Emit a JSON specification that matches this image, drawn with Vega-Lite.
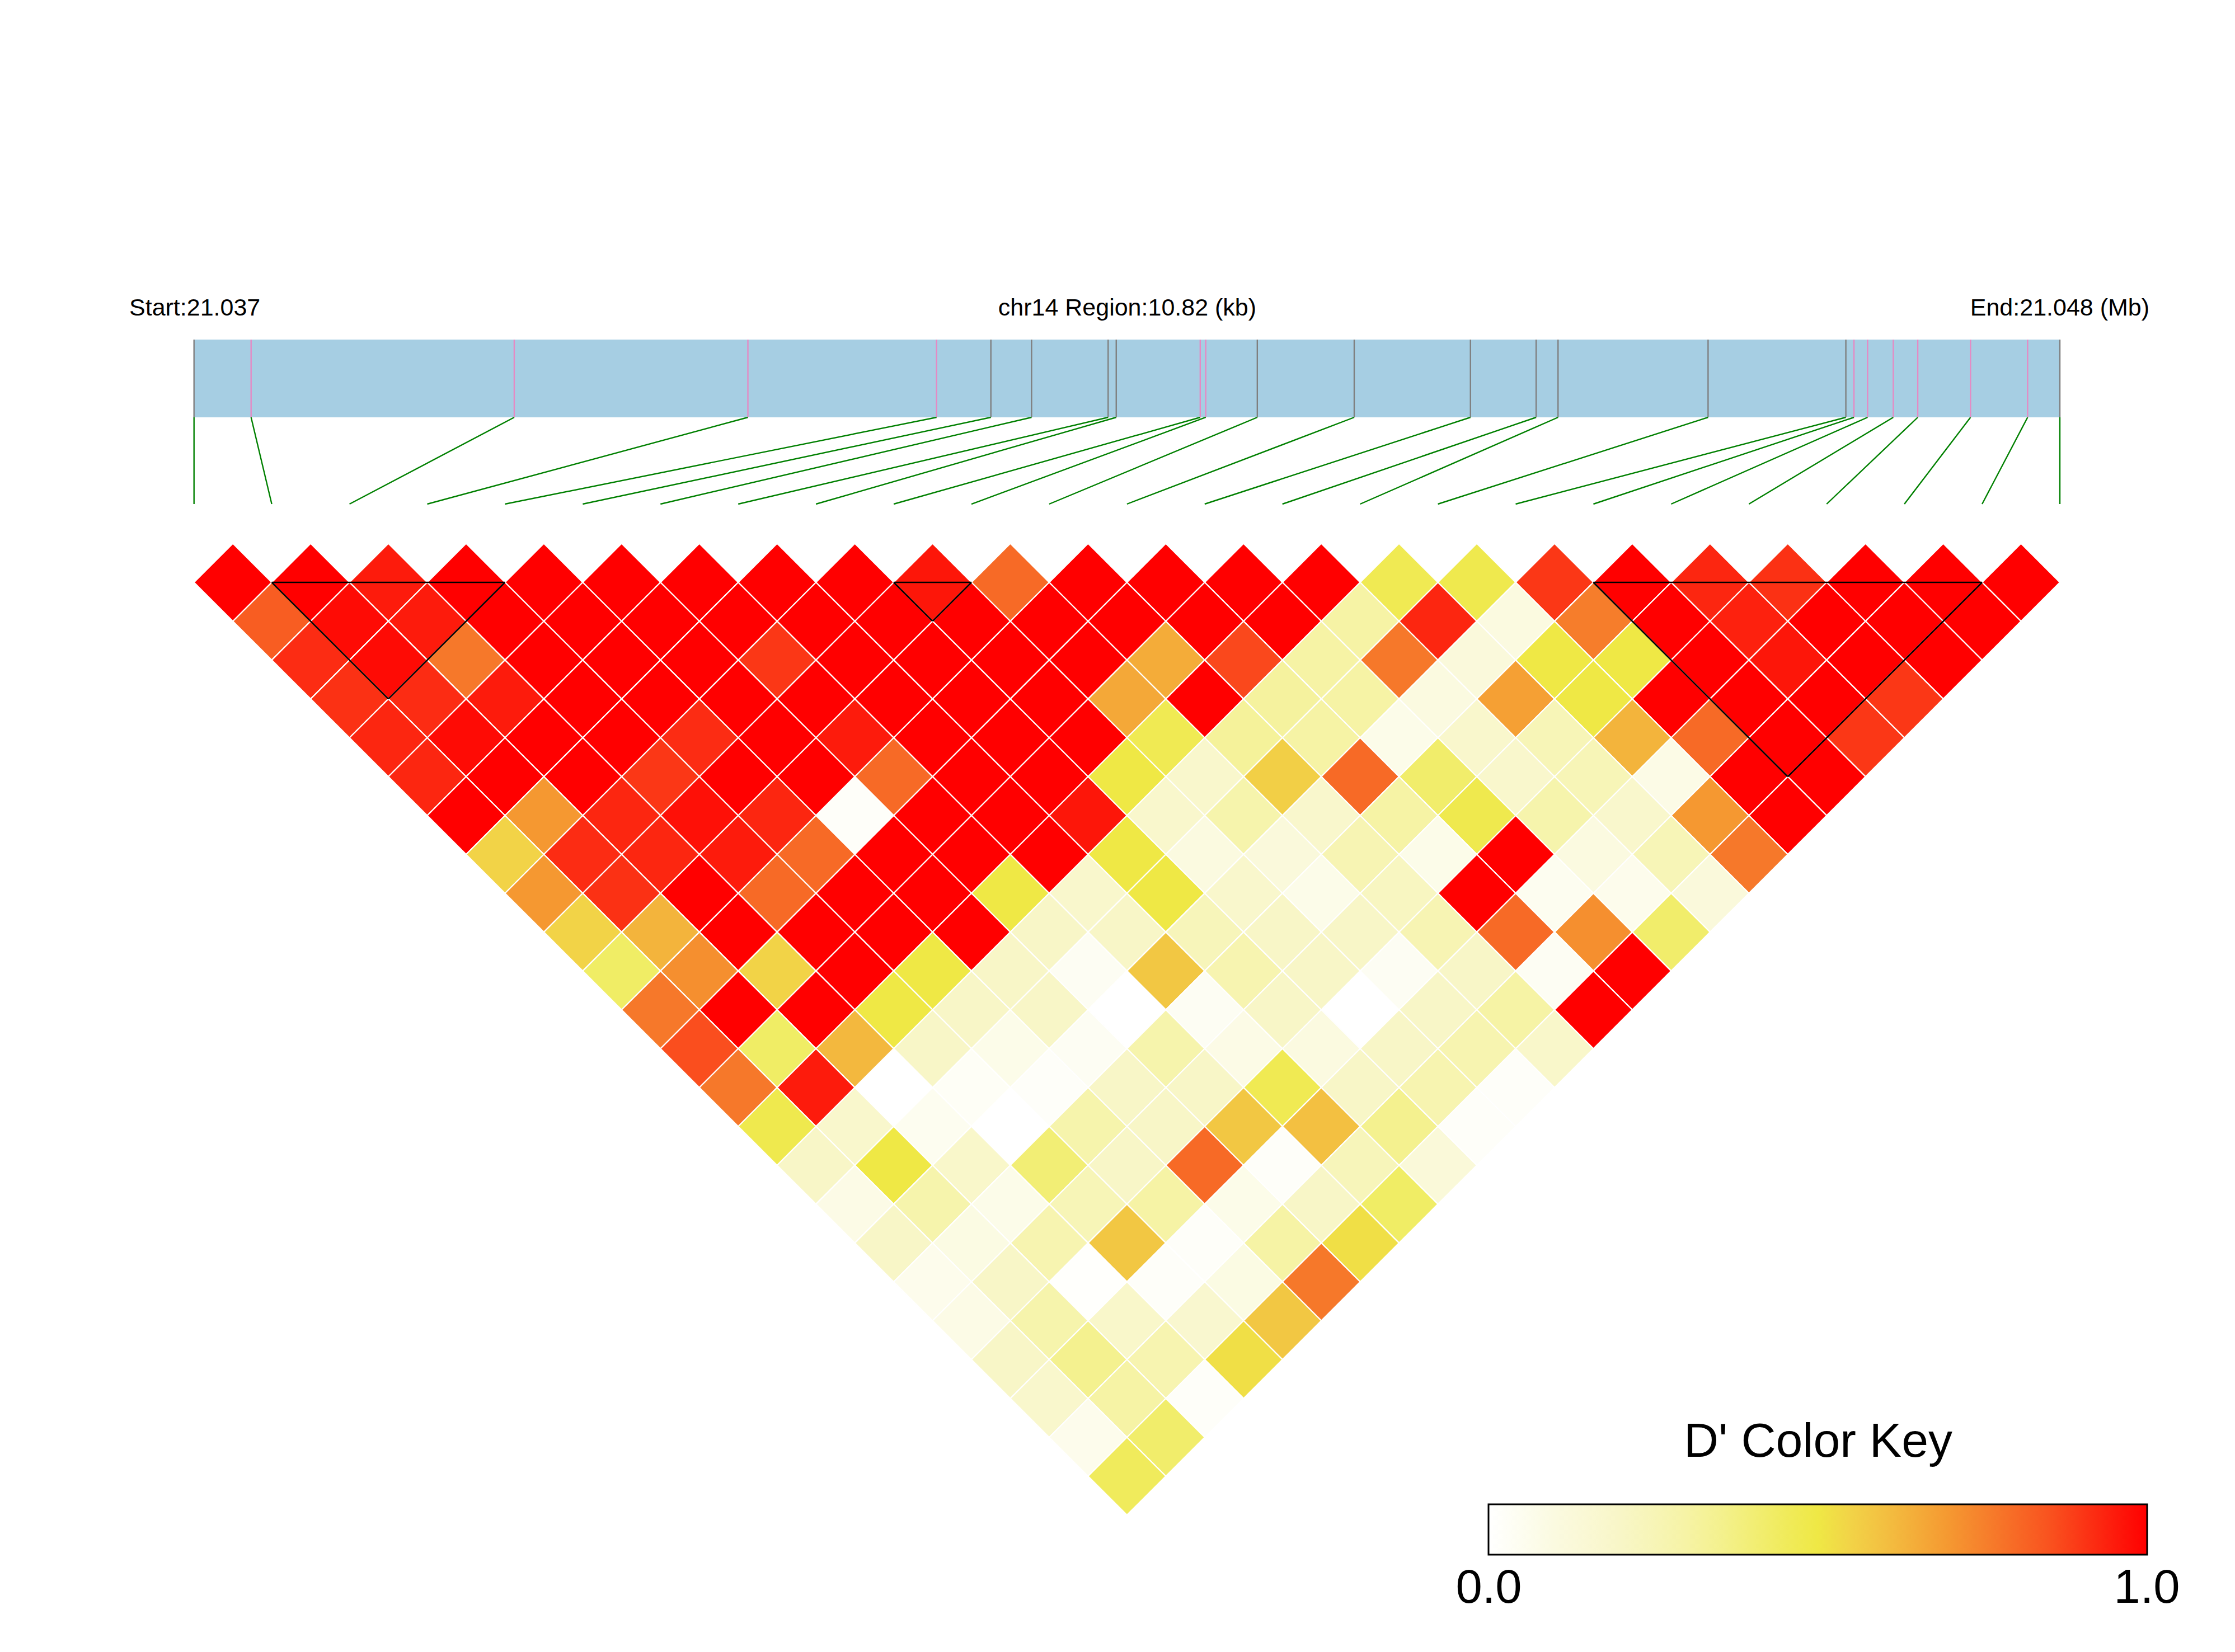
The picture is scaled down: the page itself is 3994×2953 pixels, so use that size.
{
"$schema": "https://vega.github.io/schema/vega-lite/v6.json",
"width": 3994, "height": 2953,
"autosize": {"type": "fit", "contains": "padding"},
"padding": 0,
"background": "white",
"config": {"view": {"stroke": null}},
"datasets": {
"cells": [
{"i":0,"j":1,"v":1},{"i":1,"j":2,"v":1},{"i":2,"j":3,"v":0.95},{"i":3,"j":4,"v":1},{"i":4,"j":5,"v":1},{"i":5,"j":6,"v":1},{"i":6,"j":7,"v":1},{"i":7,"j":8,"v":1},{"i":8,"j":9,"v":1},{"i":9,"j":10,"v":0.96},{"i":10,"j":11,"v":0.8},{"i":11,"j":12,"v":1},{"i":12,"j":13,"v":1},{"i":13,"j":14,"v":1},{"i":14,"j":15,"v":1},{"i":15,"j":16,"v":0.47},{"i":16,"j":17,"v":0.48},{"i":17,"j":18,"v":0.9},{"i":18,"j":19,"v":1},{"i":19,"j":20,"v":0.93},{"i":20,"j":21,"v":0.91},{"i":21,"j":22,"v":1},{"i":22,"j":23,"v":1},{"i":23,"j":24,"v":1},
{"i":0,"j":2,"v":0.83},{"i":1,"j":3,"v":0.98},{"i":2,"j":4,"v":0.95},{"i":3,"j":5,"v":1},{"i":4,"j":6,"v":1},{"i":5,"j":7,"v":1},{"i":6,"j":8,"v":1},{"i":7,"j":9,"v":1},{"i":8,"j":10,"v":1},{"i":9,"j":11,"v":1},{"i":10,"j":12,"v":1},{"i":11,"j":13,"v":1},{"i":12,"j":14,"v":1},{"i":13,"j":15,"v":1},{"i":14,"j":16,"v":0.3},{"i":15,"j":17,"v":0.93},{"i":16,"j":18,"v":0.1},{"i":17,"j":19,"v":0.76},{"i":18,"j":20,"v":1},{"i":19,"j":21,"v":0.94},{"i":20,"j":22,"v":1},{"i":21,"j":23,"v":1},{"i":22,"j":24,"v":1},
{"i":0,"j":3,"v":0.92},{"i":1,"j":4,"v":0.98},{"i":2,"j":5,"v":0.77},{"i":3,"j":6,"v":1},{"i":4,"j":7,"v":1},{"i":5,"j":8,"v":1},{"i":6,"j":9,"v":0.9},{"i":7,"j":10,"v":1},{"i":8,"j":11,"v":1},{"i":9,"j":12,"v":1},{"i":10,"j":13,"v":1},{"i":11,"j":14,"v":0.65},{"i":12,"j":15,"v":0.87},{"i":13,"j":16,"v":0.3},{"i":14,"j":17,"v":0.77},{"i":15,"j":18,"v":0.12},{"i":16,"j":19,"v":0.5},{"i":17,"j":20,"v":0.5},{"i":18,"j":21,"v":1},{"i":19,"j":22,"v":0.96},{"i":20,"j":23,"v":1},{"i":21,"j":24,"v":1},
{"i":0,"j":4,"v":0.91},{"i":1,"j":5,"v":0.92},{"i":2,"j":6,"v":0.95},{"i":3,"j":7,"v":1},{"i":4,"j":8,"v":1},{"i":5,"j":9,"v":1},{"i":6,"j":10,"v":1},{"i":7,"j":11,"v":1},{"i":8,"j":12,"v":1},{"i":9,"j":13,"v":1},{"i":10,"j":14,"v":0.66},{"i":11,"j":15,"v":1},{"i":12,"j":16,"v":0.32},{"i":13,"j":17,"v":0.3},{"i":14,"j":18,"v":0.1},{"i":15,"j":19,"v":0.68},{"i":16,"j":20,"v":0.5},{"i":17,"j":21,"v":1},{"i":18,"j":22,"v":1},{"i":19,"j":23,"v":1},{"i":20,"j":24,"v":0.9},
{"i":0,"j":5,"v":0.93},{"i":1,"j":6,"v":0.98},{"i":2,"j":7,"v":1},{"i":3,"j":8,"v":1},{"i":4,"j":9,"v":0.92},{"i":5,"j":10,"v":1},{"i":6,"j":11,"v":0.95},{"i":7,"j":12,"v":1},{"i":8,"j":13,"v":1},{"i":9,"j":14,"v":1},{"i":10,"j":15,"v":0.47},{"i":11,"j":16,"v":0.33},{"i":12,"j":17,"v":0.3},{"i":13,"j":18,"v":0.07},{"i":14,"j":19,"v":0.18},{"i":15,"j":20,"v":0.25},{"i":16,"j":21,"v":0.63},{"i":17,"j":22,"v":0.8},{"i":18,"j":23,"v":1},{"i":19,"j":24,"v":0.9},
{"i":0,"j":6,"v":0.93},{"i":1,"j":7,"v":1},{"i":2,"j":8,"v":1},{"i":3,"j":9,"v":0.9},{"i":4,"j":10,"v":1},{"i":5,"j":11,"v":1},{"i":6,"j":12,"v":0.8},{"i":7,"j":13,"v":1},{"i":8,"j":14,"v":1},{"i":9,"j":15,"v":0.5},{"i":10,"j":16,"v":0.18},{"i":11,"j":17,"v":0.56},{"i":12,"j":18,"v":0.8},{"i":13,"j":19,"v":0.42},{"i":14,"j":20,"v":0.18},{"i":15,"j":21,"v":0.25},{"i":16,"j":22,"v":0.08},{"i":17,"j":23,"v":1},{"i":18,"j":24,"v":1},
{"i":0,"j":7,"v":1},{"i":1,"j":8,"v":0.7},{"i":2,"j":9,"v":0.93},{"i":3,"j":10,"v":0.97},{"i":4,"j":11,"v":0.93},{"i":5,"j":12,"v":0.02},{"i":6,"j":13,"v":1},{"i":7,"j":14,"v":1},{"i":8,"j":15,"v":0.96},{"i":9,"j":16,"v":0.18},{"i":10,"j":17,"v":0.28},{"i":11,"j":18,"v":0.18},{"i":12,"j":19,"v":0.3},{"i":13,"j":20,"v":0.48},{"i":14,"j":21,"v":0.28},{"i":15,"j":22,"v":0.18},{"i":16,"j":23,"v":0.7},{"i":17,"j":24,"v":1},
{"i":0,"j":8,"v":0.55},{"i":1,"j":9,"v":0.92},{"i":2,"j":10,"v":0.93},{"i":3,"j":11,"v":0.95},{"i":4,"j":12,"v":0.8},{"i":5,"j":13,"v":1},{"i":6,"j":14,"v":1},{"i":7,"j":15,"v":1},{"i":8,"j":16,"v":0.5},{"i":9,"j":17,"v":0.1},{"i":10,"j":18,"v":0.12},{"i":11,"j":19,"v":0.26},{"i":12,"j":20,"v":0.07},{"i":13,"j":21,"v":1},{"i":14,"j":22,"v":0.1},{"i":15,"j":23,"v":0.25},{"i":16,"j":24,"v":0.77},
{"i":0,"j":9,"v":0.7},{"i":1,"j":10,"v":0.91},{"i":2,"j":11,"v":1},{"i":3,"j":12,"v":0.8},{"i":4,"j":13,"v":1},{"i":5,"j":14,"v":1},{"i":6,"j":15,"v":0.5},{"i":7,"j":16,"v":0.18},{"i":8,"j":17,"v":0.5},{"i":9,"j":18,"v":0.18},{"i":10,"j":19,"v":0.07},{"i":11,"j":20,"v":0.22},{"i":12,"j":21,"v":1},{"i":13,"j":22,"v":0.05},{"i":14,"j":23,"v":0.06},{"i":15,"j":24,"v":0.12},
{"i":0,"j":10,"v":0.55},{"i":1,"j":11,"v":0.63},{"i":2,"j":12,"v":1},{"i":3,"j":13,"v":1},{"i":4,"j":14,"v":1},{"i":5,"j":15,"v":1},{"i":6,"j":16,"v":0.2},{"i":7,"j":17,"v":0.2},{"i":8,"j":18,"v":0.24},{"i":9,"j":19,"v":0.2},{"i":10,"j":20,"v":0.2},{"i":11,"j":21,"v":0.26},{"i":12,"j":22,"v":0.8},{"i":13,"j":23,"v":0.72},{"i":14,"j":24,"v":0.42},
{"i":0,"j":11,"v":0.43},{"i":1,"j":12,"v":0.72},{"i":2,"j":13,"v":0.55},{"i":3,"j":14,"v":1},{"i":4,"j":15,"v":0.5},{"i":5,"j":16,"v":0.2},{"i":6,"j":17,"v":0.04},{"i":7,"j":18,"v":0.58},{"i":8,"j":19,"v":0.27},{"i":9,"j":20,"v":0.2},{"i":10,"j":21,"v":0.04},{"i":11,"j":22,"v":0.2},{"i":12,"j":23,"v":0.04},{"i":13,"j":24,"v":1},
{"i":0,"j":12,"v":0.77},{"i":1,"j":13,"v":1},{"i":2,"j":14,"v":1},{"i":3,"j":15,"v":0.5},{"i":4,"j":16,"v":0.2},{"i":5,"j":17,"v":0.2},{"i":6,"j":18,"v":0},{"i":7,"j":19,"v":0.04},{"i":8,"j":20,"v":0.2},{"i":9,"j":21,"v":0},{"i":10,"j":22,"v":0.2},{"i":11,"j":23,"v":0.3},{"i":12,"j":24,"v":1},
{"i":0,"j":13,"v":0.86},{"i":1,"j":14,"v":0.43},{"i":2,"j":15,"v":0.62},{"i":3,"j":16,"v":0.2},{"i":4,"j":17,"v":0.07},{"i":5,"j":18,"v":0.04},{"i":6,"j":19,"v":0.28},{"i":7,"j":20,"v":0.08},{"i":8,"j":21,"v":0.1},{"i":9,"j":22,"v":0.2},{"i":10,"j":23,"v":0.27},{"i":11,"j":24,"v":0.19},
{"i":0,"j":14,"v":0.77},{"i":1,"j":15,"v":0.95},{"i":2,"j":16,"v":0},{"i":3,"j":17,"v":0.03},{"i":4,"j":18,"v":0.02},{"i":5,"j":19,"v":0.2},{"i":6,"j":20,"v":0.2},{"i":7,"j":21,"v":0.47},{"i":8,"j":22,"v":0.2},{"i":9,"j":23,"v":0.27},{"i":10,"j":24,"v":0.02},
{"i":0,"j":15,"v":0.48},{"i":1,"j":16,"v":0.18},{"i":2,"j":17,"v":0.05},{"i":3,"j":18,"v":0},{"i":4,"j":19,"v":0.28},{"i":5,"j":20,"v":0.2},{"i":6,"j":21,"v":0.58},{"i":7,"j":22,"v":0.6},{"i":8,"j":23,"v":0.35},{"i":9,"j":24,"v":0.02},
{"i":0,"j":16,"v":0.2},{"i":1,"j":17,"v":0.5},{"i":2,"j":18,"v":0.19},{"i":3,"j":19,"v":0.4},{"i":4,"j":20,"v":0.2},{"i":5,"j":21,"v":0.8},{"i":6,"j":22,"v":0.02},{"i":7,"j":23,"v":0.24},{"i":8,"j":24,"v":0.13},
{"i":0,"j":17,"v":0.08},{"i":1,"j":18,"v":0.28},{"i":2,"j":19,"v":0.07},{"i":3,"j":20,"v":0.25},{"i":4,"j":21,"v":0.3},{"i":5,"j":22,"v":0.07},{"i":6,"j":23,"v":0.2},{"i":7,"j":24,"v":0.43},
{"i":0,"j":18,"v":0.2},{"i":1,"j":19,"v":0.09},{"i":2,"j":20,"v":0.27},{"i":3,"j":21,"v":0.58},{"i":4,"j":22,"v":0.02},{"i":5,"j":23,"v":0.3},{"i":6,"j":24,"v":0.52},
{"i":0,"j":19,"v":0.06},{"i":1,"j":20,"v":0.2},{"i":2,"j":21,"v":0.01},{"i":3,"j":22,"v":0.02},{"i":4,"j":23,"v":0.09},{"i":5,"j":24,"v":0.77},
{"i":0,"j":20,"v":0.08},{"i":1,"j":21,"v":0.28},{"i":2,"j":22,"v":0.19},{"i":3,"j":23,"v":0.17},{"i":4,"j":24,"v":0.58},
{"i":0,"j":21,"v":0.2},{"i":1,"j":22,"v":0.35},{"i":2,"j":23,"v":0.27},{"i":3,"j":24,"v":0.52},
{"i":0,"j":22,"v":0.18},{"i":1,"j":23,"v":0.3},{"i":2,"j":24,"v":0.02},
{"i":0,"j":23,"v":0.06},{"i":1,"j":24,"v":0.42},
{"i":0,"j":24,"v":0.45}
],
"snps": [
{"snp":0,"kb":0,"kind":"grey"},{"snp":1,"kb":0.331,"kind":"pink"},{"snp":2,"kb":1.857,"kind":"pink"},{"snp":3,"kb":3.212,"kind":"pink"},{"snp":4,"kb":4.306,"kind":"pink"},{"snp":5,"kb":4.621,"kind":"grey"},{"snp":6,"kb":4.857,"kind":"grey"},{"snp":7,"kb":5.301,"kind":"grey"},{"snp":8,"kb":5.348,"kind":"grey"},{"snp":9,"kb":5.835,"kind":"pink"},{"snp":10,"kb":5.867,"kind":"pink"},{"snp":11,"kb":6.166,"kind":"grey"},{"snp":12,"kb":6.728,"kind":"grey"},{"snp":13,"kb":7.402,"kind":"grey"},{"snp":14,"kb":7.783,"kind":"grey"},{"snp":15,"kb":7.91,"kind":"grey"},{"snp":16,"kb":8.78,"kind":"grey"},{"snp":17,"kb":9.579,"kind":"grey"},{"snp":18,"kb":9.626,"kind":"pink"},{"snp":19,"kb":9.705,"kind":"pink"},{"snp":20,"kb":9.854,"kind":"pink"},{"snp":21,"kb":9.996,"kind":"pink"},{"snp":22,"kb":10.302,"kind":"pink"},{"snp":23,"kb":10.633,"kind":"pink"},{"snp":24,"kb":10.82,"kind":"grey"}
],
"blocks": [
{"block":1,"from":1,"to":4},{"block":2,"from":9,"to":10},{"block":3,"from":18,"to":23}
],
"region": [{"region":"chr14","first":0,"last":24}]
},
"layer": [
{
"data": {"name": "region"},
"transform": [{"calculate": "-2.6236", "as": "ytop"}, {"calculate": "-1.6231", "as": "ybot"}],
"mark": {"type": "rect", "color": "#A6CEE3"},
"encoding": {
"x": {"field": "first", "type": "quantitative", "scale": {"domain": [-2.4955, 26.2528], "nice": false, "zero": false}, "axis": null},
"x2": {"field": "last"},
"y": {"field": "ytop", "type": "quantitative", "scale": {"domain": [-6.9927, 14.2626], "nice": false, "zero": false, "reverse": true}, "axis": null},
"y2": {"field": "ybot"}
}
},
{
"data": {"name": "snps"},
"transform": [{"calculate": "datum.kb * 24 / 10.82", "as": "px"}, {"calculate": "-2.6236", "as": "ytop"}, {"calculate": "-1.6231", "as": "ybot"}],
"mark": {"type": "rule", "strokeWidth": 2.4},
"encoding": {
"x": {"field": "px", "type": "quantitative", "scale": {"domain": [-2.4955, 26.2528], "nice": false, "zero": false}, "axis": null},
"y": {"field": "ytop", "type": "quantitative", "scale": {"domain": [-6.9927, 14.2626], "nice": false, "zero": false, "reverse": true}, "axis": null},
"y2": {"field": "ybot"},
"stroke": {"field": "kind", "type": "nominal", "scale": {"domain": ["grey", "pink"], "range": ["#7F7F7F", "#E58AC4"]}, "legend": null}
}
},
{
"data": {"name": "snps"},
"transform": [{"calculate": "datum.kb * 24 / 10.82", "as": "px"}, {"calculate": "-1.6231", "as": "ybot"}, {"calculate": "-0.5074", "as": "ylow"}],
"mark": {"type": "rule", "strokeWidth": 2.4, "color": "#008000"},
"encoding": {
"x": {"field": "px", "type": "quantitative", "scale": {"domain": [-2.4955, 26.2528], "nice": false, "zero": false}, "axis": null},
"x2": {"field": "snp"},
"y": {"field": "ybot", "type": "quantitative", "scale": {"domain": [-6.9927, 14.2626], "nice": false, "zero": false, "reverse": true}, "axis": null},
"y2": {"field": "ylow"}
}
},
{
"data": {"name": "cells"},
"transform": [{"calculate": "(datum.i + datum.j) / 2", "as": "cx"}, {"calculate": "(datum.j - datum.i) / 2", "as": "cy"}],
"mark": {"type": "point", "shape": "diamond", "filled": true, "size": 19302, "opacity": 1, "stroke": "white", "strokeWidth": 2.2, "strokeOpacity": 1},
"encoding": {
"x": {"field": "cx", "type": "quantitative", "scale": {"domain": [-2.4955, 26.2528], "nice": false, "zero": false}, "axis": null},
"y": {"field": "cy", "type": "quantitative", "scale": {"domain": [-6.9927, 14.2626], "nice": false, "zero": false, "reverse": true}, "axis": null},
"color": {
"field": "v", "type": "quantitative", "title": "D' Color Key",
"scale": {"domain": [0, 0.1, 0.21, 0.33, 0.44, 0.5, 0.544, 0.62, 0.695, 0.77, 0.847, 0.923, 1], "range": ["#FFFFFF", "#FBFAE0", "#F8F6C5", "#F5F29A", "#F0EC60", "#EFE845", "#F2D548", "#F3B83E", "#F59A32", "#F6782A", "#F95520", "#FC2A12", "#FF0000"], "interpolate": "rgb"},
"legend": {"orient": "none", "legendX": 2660, "legendY": 2536, "direction": "horizontal", "titleFontSize": 86, "titleFont": "Liberation Sans", "titleFontWeight": "normal", "titleColor": "black", "titleAnchor": "middle", "titleLimit": 3000, "titlePadding": 67, "gradientLength": 1177, "gradientThickness": 90, "gradientStrokeColor": "black", "gradientStrokeWidth": 3, "values": [0.0004, 0.9996], "format": ".1f", "labelFontSize": 85, "labelFont": "Liberation Sans", "labelColor": "black", "labelAlign": "center", "labelOffset": 19, "labelOverlap": false, "labelLimit": 1000, "padding": 0, "offset": 0}
}
}
},
{
"data": {"name": "blocks"},
"transform": [{"calculate": "0.5", "as": "ty"}],
"mark": {"type": "rule", "color": "black", "strokeWidth": 2.6},
"encoding": {
"x": {"field": "from", "type": "quantitative", "scale": {"domain": [-2.4955, 26.2528], "nice": false, "zero": false}, "axis": null},
"x2": {"field": "to"},
"y": {"field": "ty", "type": "quantitative", "scale": {"domain": [-6.9927, 14.2626], "nice": false, "zero": false, "reverse": true}, "axis": null}
}
},
{
"data": {"name": "blocks"},
"transform": [{"calculate": "0.5", "as": "ty"}, {"calculate": "(datum.from + datum.to) / 2", "as": "ax"}, {"calculate": "(datum.to - datum.from) / 2 + 0.5", "as": "ay"}],
"mark": {"type": "rule", "color": "black", "strokeWidth": 2.6},
"encoding": {
"x": {"field": "from", "type": "quantitative", "scale": {"domain": [-2.4955, 26.2528], "nice": false, "zero": false}, "axis": null},
"x2": {"field": "ax"},
"y": {"field": "ty", "type": "quantitative", "scale": {"domain": [-6.9927, 14.2626], "nice": false, "zero": false, "reverse": true}, "axis": null},
"y2": {"field": "ay"}
}
},
{
"data": {"name": "blocks"},
"transform": [{"calculate": "0.5", "as": "ty"}, {"calculate": "(datum.from + datum.to) / 2", "as": "ax"}, {"calculate": "(datum.to - datum.from) / 2 + 0.5", "as": "ay"}],
"mark": {"type": "rule", "color": "black", "strokeWidth": 2.6},
"encoding": {
"x": {"field": "to", "type": "quantitative", "scale": {"domain": [-2.4955, 26.2528], "nice": false, "zero": false}, "axis": null},
"x2": {"field": "ax"},
"y": {"field": "ty", "type": "quantitative", "scale": {"domain": [-6.9927, 14.2626], "nice": false, "zero": false, "reverse": true}, "axis": null},
"y2": {"field": "ay"}
}
},
{
"data": {"values": [{"label": "Start:21.037"}]},
"transform": [{"calculate": "-0.8328", "as": "tx"}, {"calculate": "-2.933", "as": "ty"}],
"mark": {"type": "text", "align": "left", "baseline": "alphabetic", "font": "Liberation Sans", "fontSize": 43, "color": "black"},
"encoding": {
"text": {"field": "label"},
"x": {"field": "tx", "type": "quantitative", "scale": {"domain": [-2.4955, 26.2528], "nice": false, "zero": false}, "axis": null},
"y": {"field": "ty", "type": "quantitative", "scale": {"domain": [-6.9927, 14.2626], "nice": false, "zero": false, "reverse": true}, "axis": null}
}
},
{
"data": {"values": [{"label": "chr14 Region:10.82 (kb)"}]},
"transform": [{"calculate": "12.004", "as": "tx"}, {"calculate": "-2.933", "as": "ty"}],
"mark": {"type": "text", "align": "center", "baseline": "alphabetic", "font": "Liberation Sans", "fontSize": 43, "color": "black"},
"encoding": {
"text": {"field": "label"},
"x": {"field": "tx", "type": "quantitative", "scale": {"domain": [-2.4955, 26.2528], "nice": false, "zero": false}, "axis": null},
"y": {"field": "ty", "type": "quantitative", "scale": {"domain": [-6.9927, 14.2626], "nice": false, "zero": false, "reverse": true}, "axis": null}
}
},
{
"data": {"values": [{"label": "End:21.048 (Mb)"}]},
"transform": [{"calculate": "25.152", "as": "tx"}, {"calculate": "-2.933", "as": "ty"}],
"mark": {"type": "text", "align": "right", "baseline": "alphabetic", "font": "Liberation Sans", "fontSize": 43, "color": "black"},
"encoding": {
"text": {"field": "label"},
"x": {"field": "tx", "type": "quantitative", "scale": {"domain": [-2.4955, 26.2528], "nice": false, "zero": false}, "axis": null},
"y": {"field": "ty", "type": "quantitative", "scale": {"domain": [-6.9927, 14.2626], "nice": false, "zero": false, "reverse": true}, "axis": null}
}
}
]
}
